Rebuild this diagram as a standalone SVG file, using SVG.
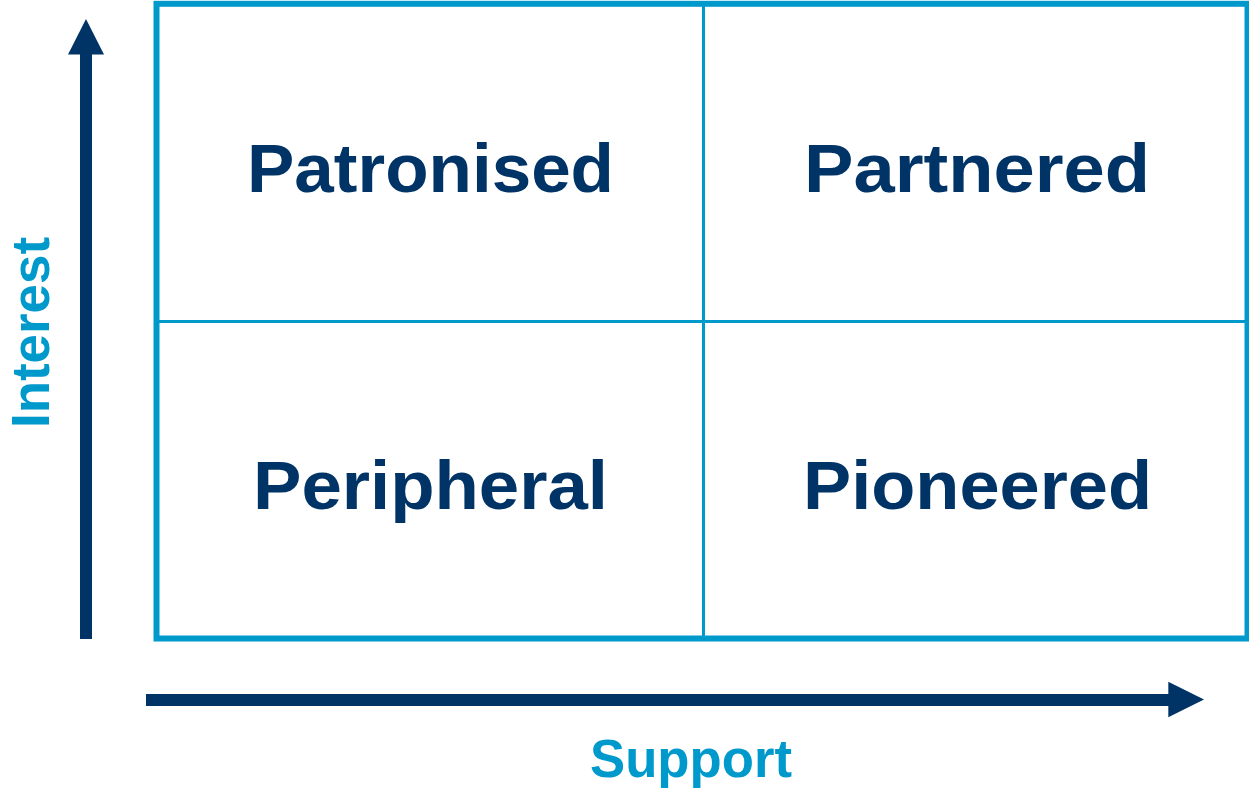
<svg xmlns="http://www.w3.org/2000/svg" width="1249" height="793" viewBox="0 0 1249 793">
  <style>
    .quad { font-family: "Liberation Sans", Arial, sans-serif; font-weight: bold; font-size: 68px; fill: #003366; text-anchor: middle; }
    .axis { font-family: "Liberation Sans", Arial, sans-serif; font-weight: bold; font-size: 53px; fill: #0099CC; text-anchor: middle; }
    .grid { fill: none; stroke: #0099CC; }
    .arrow { fill: #003366; }
  </style>
  <rect width="1249" height="793" fill="#ffffff"/>
  <g id="grid">
    <rect class="grid" x="156.5" y="3.8" width="1091" height="634.7" stroke-width="6"/>
    <line class="grid" x1="703.5" y1="4" x2="703.5" y2="638" stroke-width="3"/>
    <line class="grid" x1="157" y1="321.5" x2="1248" y2="321.5" stroke-width="3"/>
  </g>
  <g id="connectors">
    <g id="interest-arrow">
      <rect class="arrow" x="80" y="52" width="12" height="587"/>
      <polygon class="arrow" points="86,19 104,54.5 68,54.5"/>
    </g>
    <g id="support-arrow">
      <rect class="arrow" x="146" y="694" width="1024" height="12"/>
      <polygon class="arrow" points="1204,699.5 1168.3,681.7 1168.3,717.3"/>
    </g>
  </g>
  <g id="patronised"><text class="quad" x="430.5" y="192.3" textLength="367" lengthAdjust="spacingAndGlyphs">Patronised</text></g>
  <g id="partnered"><text class="quad" x="977" y="192.3" textLength="346" lengthAdjust="spacingAndGlyphs">Partnered</text></g>
  <g id="peripheral"><text class="quad" x="430.5" y="509.3" textLength="355" lengthAdjust="spacingAndGlyphs">Peripheral</text></g>
  <g id="pioneered"><text class="quad" x="977.5" y="509.3" textLength="349" lengthAdjust="spacingAndGlyphs">Pioneered</text></g>
  <g id="interest-label"><text class="axis" transform="translate(49,332.5) rotate(-90)" textLength="191" lengthAdjust="spacingAndGlyphs">Interest</text></g>
  <g id="support-label"><text class="axis" x="691" y="776.5" textLength="202" lengthAdjust="spacingAndGlyphs">Support</text></g>
</svg>
